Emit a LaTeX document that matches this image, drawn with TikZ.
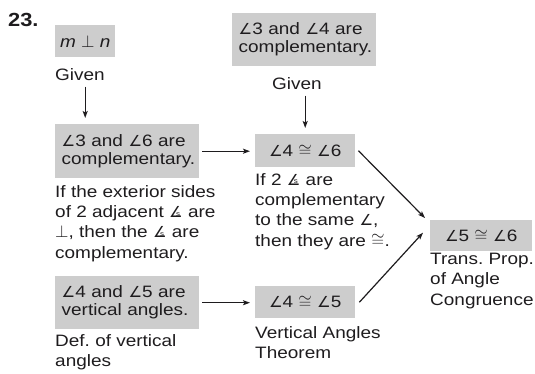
\documentclass[tikz,border=0pt]{standalone}
\usepackage{fontspec}
\setmainfont[FakeStretch=1.15]{Liberation Sans}
\newfontfamily\symf[Scale=0.92]{DejaVu Sans}
\usetikzlibrary{arrows.meta}
\definecolor{boxgray}{RGB}{205,205,205}
\definecolor{ink}{RGB}{30,28,30}
\newcommand{\ang}{{\symf ∠}}
\newcommand{\angs}{\mbox{{\symf ∠}\llap{\raisebox{0.08em}{\fontsize{7}{7}\selectfont s}\kern0.15em}}}
\newcommand{\bxfont}{\fontsize{16.5}{18}\selectfont}
\newcommand{\lbfont}{\fontsize{16.5}{20.3}\selectfont}
\newcommand{\numfont}{\fontsize{19}{20}\selectfont\bfseries}
\frenchspacing
\begin{document}
\begin{tikzpicture}[x=1pt,y=-1pt,
  every node/.style={text=ink},
  box/.style={fill=boxgray, inner sep=0pt, font=\bxfont},
  twobox/.style={box, anchor=north west, minimum width=144pt, minimum height=54pt, text width=131pt, inner xsep=6.5pt, align=left},
  onebox/.style={box, anchor=north west, minimum height=33pt, align=center},
  lbl/.style={anchor=north west, inner sep=0pt, align=left, font=\lbfont},
  arr/.style={draw=ink, line width=1.2pt, -{Stealth[length=7pt,width=5pt,inset=1.5pt]}}]
\useasboundingbox (0,0) rectangle (535,373);

\node[font=\numfont, anchor=base west, inner sep=0pt] (num) at (8,26) {23.};
\node[onebox, minimum width=60pt, minimum height=32pt] (b1) at (55,25) {\textit{m} \(\perp\) \textit{n}};
\node[lbl] (g1) at (55,68) {Given};
\node[twobox] (b2) at (55,124) {\ang3 and \ang6 are\\complementary.};
\node[lbl] (r2) at (55,185) {If the exterior sides\\of 2 adjacent \angs{} are\\\(\perp\), then the \angs{} are\\complementary.};
\node[twobox, minimum height=53pt] (b5) at (55,276) {\ang4 and \ang5 are\\vertical angles.};
\node[lbl] (r5) at (55,334) {Def. of vertical\\angles};

\node[twobox, minimum height=53pt] (b3) at (232,13) {\ang3 and \ang4 are\\complementary.};
\node[lbl] (g3) at (272,77) {Given};
\node[onebox, minimum width=100pt] (b4) at (255,134) {\ang4 \(\cong\) \ang6};
\node[lbl] (r4) at (255,173) {If 2 \angs{} are\\complementary\\to the same \ang,\\then they are \(\cong\).};
\node[onebox, minimum width=100pt, minimum height=32pt] (b7) at (255,286) {\ang4 \(\cong\) \ang5};
\node[lbl] (r7) at (255,326) {Vertical Angles\\Theorem};

\node[onebox, minimum width=102pt, minimum height=31pt] (b6) at (430,220) {\ang5 \(\cong\) \ang6};
\node[lbl] (r6) at (430,253) {Trans. Prop.\\of Angle\\Congruence};

\draw[arr] ([yshift=-6pt]g1.south -| b1.south) -- ([yshift=6pt]b2.north -| b1.south);
\draw[arr] ([yshift=-6pt]g3.south -| b4.north) -- ([yshift=6pt]b4.north);
\draw[arr] ([xshift=3pt]b2.east) -- ([xshift=-5pt]b4.west |- b2.east);
\draw[arr] ([xshift=3pt]b5.east) -- ([xshift=-5pt]b7.west |- b5.east);
\draw[arr] ([xshift=3pt]b4.east) -- ([xshift=-5pt,yshift=2pt]b6.north west);
\draw[arr] ([xshift=4pt]b7.east) -- ([xshift=-7pt,yshift=3pt]b6.west);
\end{tikzpicture}
\end{document}
